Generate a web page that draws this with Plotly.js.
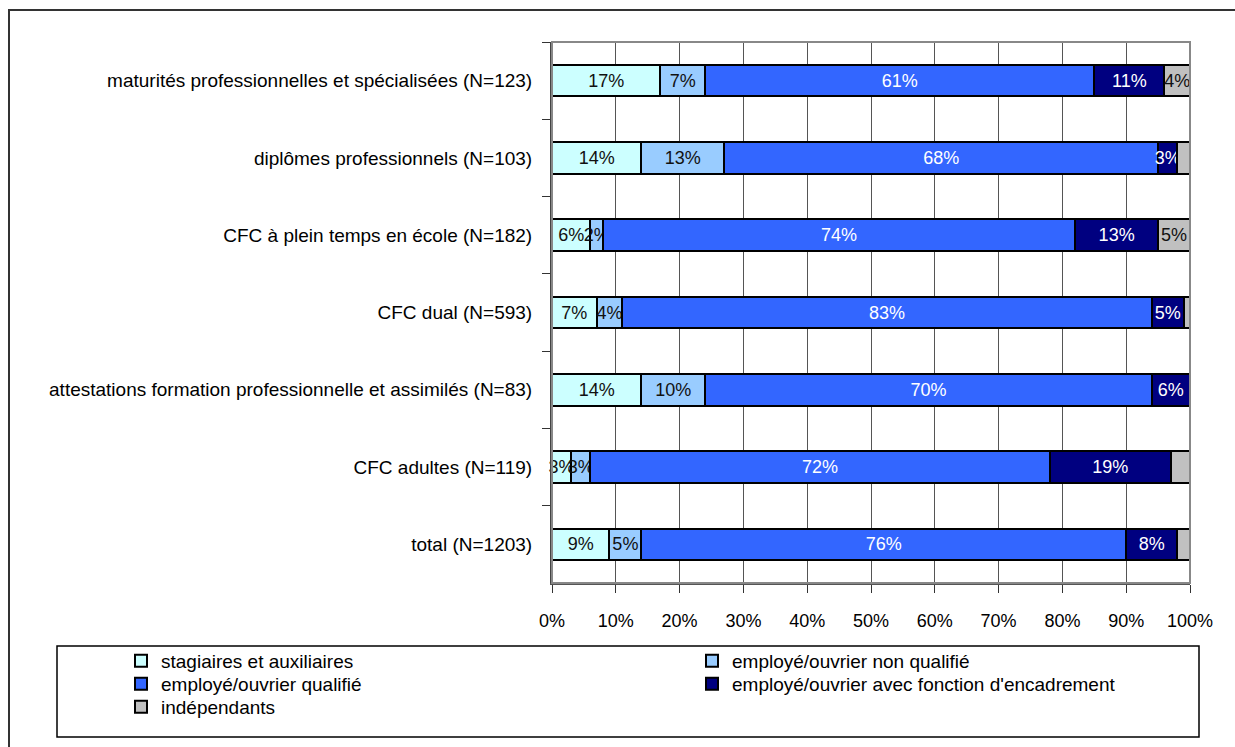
<!DOCTYPE html>
<html>
<head>
<meta charset="utf-8">
<script src="https://cdn.plot.ly/plotly-3.0.1.min.js"></script>
<style>
html,body{margin:0;padding:0;background:#fff;}
#wrap{position:relative;width:1235px;height:747px;overflow:hidden;}
#chart{width:1235px;height:747px;}
#frame{position:absolute;left:8px;top:9px;width:1240px;height:760px;border:2px solid #333;pointer-events:none;box-sizing:border-box;}
</style>
</head>
<body>
<div id="wrap"><div id="chart"></div><div id="frame"></div></div>
<script>
const categories = [
  "maturités professionnelles et spécialisées (N=123)",
  "diplômes professionnels (N=103)",
  "CFC à plein temps en école (N=182)",
  "CFC dual (N=593)",
  "attestations formation professionnelle et assimilés (N=83)",
  "CFC adultes (N=119)",
  "total (N=1203)"
];
const seriesNames = [
  "stagiaires et auxiliaires",
  "employé/ouvrier non qualifié",
  "employé/ouvrier qualifié",
  "employé/ouvrier avec fonction d'encadrement",
  "indépendants"
];
const stagiaires   = [17, 14, 6, 7, 14, 3, 9];
const nonQualifie  = [7, 13, 2, 4, 10, 3, 5];
const qualifie     = [61, 68, 74, 83, 70, 72, 76];
const encadrement  = [11, 3, 13, 5, 6, 19, 8];
const independants = [4, 2, 5, 1, 0, 3, 2];
// labels shown on the bars (blank where the original shows none)
const labStagiaires   = ["17%","14%","6%","7%","14%","3%","9%"];
const labNonQualifie  = ["7%","13%","2%","4%","10%","3%","5%"];
const labQualifie     = ["61%","68%","74%","83%","70%","72%","76%"];
const labEncadrement  = ["11%","3%","13%","5%","6%","19%","8%"];
const labIndependants = ["4%","","5%","","","",""];
const xTicks = [0,10,20,30,40,50,60,70,80,90,100];

const colors = ["#CCFFFF","#99CCFF","#3366FF","#000080","#C0C0C0"];
const txtColors = ["#111","#111","#fff","#fff","#111"];
const values = [stagiaires, nonQualifie, qualifie, encadrement, independants];
const labels = [labStagiaires, labNonQualifie, labQualifie, labEncadrement, labIndependants];
const legendIds = ["legend","legend2","legend3","legend4","legend5"];

const font = "'Liberation Sans', Arial, sans-serif";
const traces = values.map((v,i)=>({
  type:'bar', orientation:'h', name:seriesNames[i], legend:legendIds[i],
  x:v, y:categories, text:labels[i],
  textposition:'inside', insidetextanchor:'middle', constraintext:'none', textangle:0,
  textfont:{family:font, size:18, color:txtColors[i]},
  cliponaxis:false,
  marker:{color:colors[i], line:{color:'#000', width:2}},
  hoverinfo:'x+name'
}));

const W=1235,H=747, L=552, R=1190, T=42, B=583;
const px=(x)=>(x-L)/(R-L), py=(y)=>(B-y)/(B-T);
const legFont = {family:font, size:19, color:'#000'};
// legend grid: two columns, three rows (row-wise order)
const legCol = [121, 692];
const legRow = [661, 684, 707];
const legendBox = (i)=>({orientation:'v', x:px(legCol[i%2]), xanchor:'left',
  y:py(legRow[Math.floor(i/2)]), yanchor:'middle', font:legFont, bgcolor:'rgba(0,0,0,0)',
  borderwidth:0});

const layout = {
  width:W, height:H,
  margin:{l:L, r:W-R, t:T, b:H-B, pad:0, autoexpand:false},
  paper_bgcolor:'#fff', plot_bgcolor:'#fff',
  barmode:'stack', bargap:0.59,
  showlegend:true,
  legend:legendBox(0), legend2:legendBox(1), legend3:legendBox(2),
  legend4:legendBox(3), legend5:legendBox(4),
  xaxis:{range:[0,100], tickvals:xTicks, ticktext:xTicks.map(v=>v+'%'),
    showgrid:true, gridcolor:'#555', gridwidth:1,
    showline:true, linecolor:'#555', linewidth:2, mirror:false,
    ticks:'outside', ticklen:8, tickcolor:'#333', tickwidth:1,
    ticklabelstandoff:12, zeroline:false, fixedrange:true,
    tickfont:{family:font, size:18, color:'#000'}},
  yaxis:{type:'category', categoryorder:'array', categoryarray:categories, autorange:'reversed',
    showgrid:false, showline:true, linecolor:'#444', linewidth:2,
    ticks:'outside', tickson:'boundaries', ticklen:8, tickcolor:'#333', tickwidth:1,
    ticklabelstandoff:14, fixedrange:true,
    tickfont:{family:font, size:19, color:'#000'}},
  shapes:[
    {type:'rect', xref:'paper', yref:'paper', x0:0, x1:1, y0:0, y1:1, layer:'above',
      line:{color:'#888', width:2}, fillcolor:'rgba(0,0,0,0)'},
    {type:'rect', xref:'paper', yref:'paper', x0:px(57), x1:px(1199), y0:py(646), y1:py(737),
      line:{color:'#000', width:1.5}, fillcolor:'rgba(0,0,0,0)'}
  ]
};
Plotly.newPlot('chart', traces, layout, {displayModeBar:false, staticPlot:true});
</script>
</body>
</html>
